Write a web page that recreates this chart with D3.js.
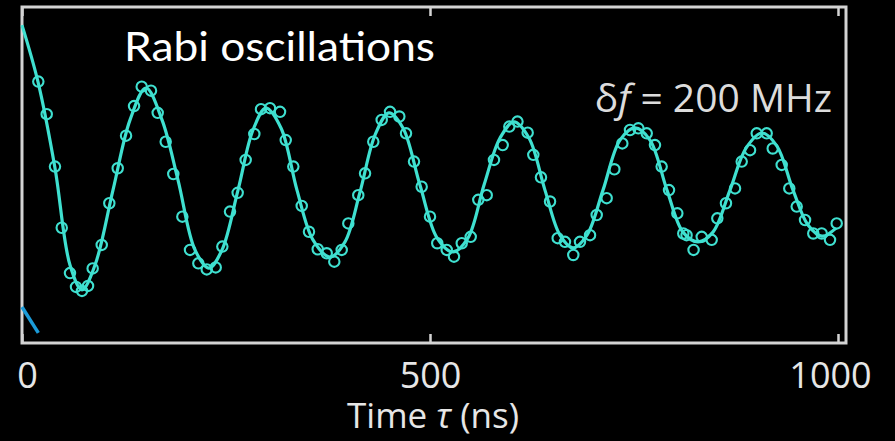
<!DOCTYPE html>
<html>
<head>
<meta charset="utf-8">
<script src="https://cdn.jsdelivr.net/npm/d3@7"></script>
<style>
  html, body { margin: 0; padding: 0; background: #000; }
  svg { display: block; }
</style>
</head>
<body>
<div id="chart"></div>
<script>
// measured points: time (ns) and signal (fraction of full scale)
const pointTime = [20, 30.3, 40.4, 48.7, 58.8, 66.2, 73.5, 80.9, 86.6, 97.7, 107, 117.3, 127.5, 137.3, 146.7, 158.1,
  166.3, 176.1, 185.4, 196.5, 205.9, 216.1, 226.4, 237.4, 245.5, 254.9, 264.3, 274.1, 284.7, 292.9, 303.9, 316.2,
  323.2, 332.5, 342.8, 351.7, 362.4, 373.4, 382.7, 391.8, 399.9, 412.1, 420.4, 430.5, 440.8, 451, 462.4, 470.6,
  480.4, 489.8, 500, 508.9, 520.5, 529.4, 538.9, 549.9, 559.2, 569.5, 578.4, 589.1, 597.2, 607.2, 619.7, 626.6,
  636, 647.1, 656.5, 665.4, 675.6, 683.8, 696.1, 704.3, 716.5, 725.9, 735.7, 745.1, 755.3, 765.6, 775.7, 783.9,
  792.9, 803.1, 810.4, 814.4, 823, 833, 845.2, 852.1, 862.7, 873.8, 882, 892.2, 900.4, 912.6, 920, 931, 940.3,
  949.4, 959.6, 969.7, 980, 990.2, 998.4];
const pointValue = [0.778, 0.681, 0.525, 0.343, 0.208, 0.167, 0.155, 0.17, 0.222, 0.292, 0.416, 0.52, 0.617, 0.705, 0.763, 0.751,
  0.685, 0.599, 0.503, 0.376, 0.277, 0.237, 0.219, 0.225, 0.287, 0.391, 0.447, 0.545, 0.622, 0.696, 0.699, 0.688,
  0.604, 0.525, 0.408, 0.331, 0.279, 0.267, 0.242, 0.277, 0.356, 0.44, 0.505, 0.599, 0.664, 0.688, 0.674, 0.624,
  0.54, 0.465, 0.376, 0.297, 0.277, 0.257, 0.297, 0.316, 0.426, 0.44, 0.545, 0.589, 0.644, 0.659, 0.626, 0.56,
  0.493, 0.421, 0.312, 0.301, 0.262, 0.301, 0.321, 0.381, 0.431, 0.517, 0.594, 0.634, 0.639, 0.624, 0.589, 0.525,
  0.455, 0.386, 0.326, 0.321, 0.277, 0.316, 0.307, 0.371, 0.416, 0.46, 0.54, 0.574, 0.624, 0.624, 0.579, 0.53, 0.46,
  0.406, 0.366, 0.326, 0.326, 0.307, 0.356];

// fitted curve
const fitTime = [0, 19.6, 40.4, 58.8, 73.5, 89.5, 111.5, 132.4, 152, 171.6, 191.2, 212, 229.2, 245.1, 264.7, 283.1,
  299, 317.4, 337, 356.6, 377.5, 395.8, 414.2, 432.6, 449.8, 466.9, 487.7, 508.6, 528.2, 546.6, 566.2, 585.8,
  602.9, 621.3, 640.9, 659.3, 675.2, 692.4, 712, 732.8, 751.3, 769.6, 790.4, 810, 828.4, 846.8, 867.6, 887.3,
  906.9, 925.2, 944.9, 963.2, 980.4, 997.6];
const fitValue = [0.946, 0.777, 0.521, 0.232, 0.158, 0.232, 0.455, 0.664, 0.759, 0.664, 0.485, 0.277, 0.223, 0.277, 0.455, 0.634,
  0.699, 0.64, 0.455, 0.307, 0.256, 0.301, 0.449, 0.619, 0.685, 0.64, 0.47, 0.313, 0.271, 0.313, 0.47, 0.61,
  0.658, 0.61, 0.455, 0.321, 0.283, 0.321, 0.455, 0.604, 0.64, 0.604, 0.455, 0.33, 0.301, 0.33, 0.455, 0.58,
  0.625, 0.586, 0.455, 0.351, 0.318, 0.342];

// second (blue) trace, only its start is visible
const blueTime = [0, 20];
const blueValue = [0.107, 0.03];

const xTicks = [0, 500, 1000];

const W = 895, H = 441;
const frame = {l: 22, r: 846, t: 7, b: 343};
const teal = '#3fe0d0';

const svg = d3.select('#chart').append('svg').attr('width', W).attr('height', H);
svg.append('rect').attr('width', W).attr('height', H).attr('fill', '#000');

const x = d3.scaleLinear().domain([0, 1000]).range([22, 838]);
const y = d3.scaleLinear().domain([0, 1]).range([frame.b, frame.t]);

// frame
svg.append('rect')
  .attr('x', frame.l).attr('y', frame.t)
  .attr('width', frame.r - frame.l).attr('height', frame.b - frame.t)
  .attr('fill', 'none').attr('stroke', '#d4d4d4').attr('stroke-width', 3);

// axes (inward ticks)
const bottomAxis = svg.append('g').attr('transform', `translate(0,${frame.b})`)
  .call(d3.axisBottom(x).tickValues(xTicks).tickFormat(d3.format('d')).tickSize(-9).tickSizeOuter(0).tickPadding(0));
bottomAxis.select('.domain').remove();
bottomAxis.selectAll('.tick line').attr('stroke', '#d4d4d4').attr('stroke-width', 2.5);
bottomAxis.selectAll('.tick text')
  .attr('y', 45).attr('dy', 0)
  .attr('fill', '#e6e6e6')
  .attr('font-family', '"Open Sans", sans-serif')
  .attr('font-size', 36)
  .attr('dx', d => d === 0 ? 5 : d === 1000 ? -8 : 0);

const topAxis = svg.append('g').attr('transform', `translate(0,${frame.t})`)
  .call(d3.axisTop(x).tickValues(xTicks).tickSize(-9).tickSizeOuter(0).tickFormat(''));
topAxis.select('.domain').remove();
topAxis.selectAll('.tick line').attr('stroke', '#d4d4d4').attr('stroke-width', 2.5);

const plot = svg.append('g');

// blue trace
plot.append('path')
  .datum(blueTime.map((t, i) => [t, blueValue[i]]))
  .attr('d', d3.line().x(d => x(d[0])).y(d => y(d[1])))
  .attr('fill', 'none').attr('stroke', '#1b9bd8').attr('stroke-width', 3.5);

// fit line
plot.append('path')
  .datum(fitTime.map((t, i) => [t, fitValue[i]]))
  .attr('d', d3.line().x(d => x(d[0])).y(d => y(d[1])).curve(d3.curveCatmullRom.alpha(0.5)))
  .attr('fill', 'none').attr('stroke', teal).attr('stroke-width', 3.2);

// measured points
plot.append('g').selectAll('circle')
  .data(pointTime.map((t, i) => [t, pointValue[i]]))
  .join('circle')
  .attr('cx', d => x(d[0])).attr('cy', d => y(d[1]))
  .attr('r', 5.2)
  .attr('fill', 'none').attr('stroke', teal).attr('stroke-width', 2.1);

// titles
svg.append('text')
  .attr('x', 124).attr('y', 61)
  .attr('fill', '#ffffff')
  .attr('font-family', 'Lato, sans-serif')
  .attr('font-size', 40)
  .attr('textLength', 311).attr('lengthAdjust', 'spacingAndGlyphs')
  .text('Rabi oscillations');

const df = svg.append('text')
  .attr('x', 832).attr('y', 112)
  .attr('text-anchor', 'end')
  .attr('fill', '#dcdcdc')
  .attr('font-family', '"Open Sans", sans-serif')
  .attr('font-size', 39);
df.append('tspan').text('δ');
df.append('tspan').attr('font-style', 'italic').text('f');
df.append('tspan').text(' = 200 MHz');

const xl = svg.append('text')
  .attr('x', 433).attr('y', 428)
  .attr('text-anchor', 'middle')
  .attr('fill', '#e6e6e6')
  .attr('font-family', '"Open Sans", sans-serif')
  .attr('font-size', 35);
xl.append('tspan').text('Time ');
xl.append('tspan').attr('font-style', 'italic').text('τ');
xl.append('tspan').text(' (ns)');
</script>
</body>
</html>
